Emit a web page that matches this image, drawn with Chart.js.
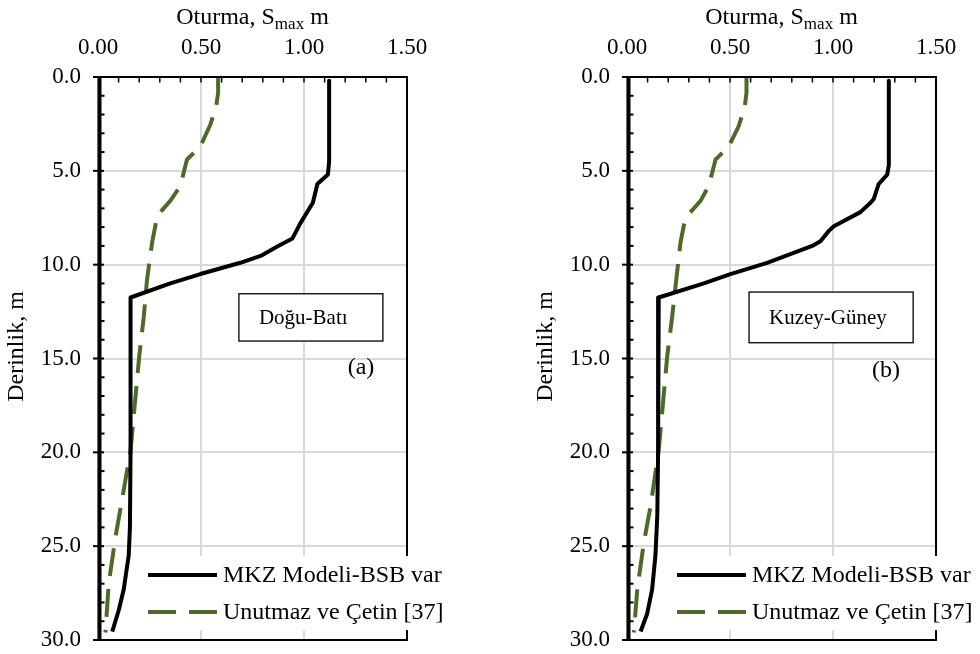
<!DOCTYPE html>
<html>
<head>
<meta charset="utf-8">
<script src="https://cdn.jsdelivr.net/npm/chart.js@4.4.1/dist/chart.umd.min.js"></script>
<style>
  html, body { margin: 0; padding: 0; background: #fff; }
  #wrap { position: relative; width: 980px; height: 654px; overflow: hidden; }
  .panel { position: absolute; top: 0; width: 490px; height: 654px; }
</style>
</head>
<body>
<div id="wrap">
  <div class="panel" style="left:0"><canvas id="ew" width="490" height="654"></canvas></div>
  <div class="panel" style="left:490px"><canvas id="ns" width="490" height="654"></canvas></div>
</div>
<script>
// Settlement profiles (depth in m, settlement in m)

// (a) East-West direction
const depthEwMkz  = [0.2, 2.5, 4.5, 5.2, 5.7, 6.7, 7.8, 8.6, 9.05, 9.5, 9.9, 10.5, 11.0, 11.75, 15.0, 20.0, 24.0, 25.5, 27.3, 28.4, 29.55];
const settleEwMkz = [1.122, 1.122, 1.122, 1.116, 1.065, 1.043, 0.982, 0.944, 0.868, 0.796, 0.691, 0.497, 0.351, 0.158, 0.158, 0.158, 0.155, 0.149, 0.125, 0.101, 0.069];
const depthEwUc   = [0.0, 0.85, 1.55, 2.55, 3.7, 4.4, 5.8, 6.6, 7.4, 7.9, 8.8, 10.8, 12.8, 14.9, 19.9, 22.0, 24.5, 27.0, 29.6];
const settleEwUc  = [0.583, 0.583, 0.574, 0.545, 0.497, 0.432, 0.400, 0.351, 0.287, 0.279, 0.263, 0.238, 0.222, 0.200, 0.158, 0.125, 0.085, 0.052, 0.036];

// (b) North-South direction
const depthNsMkz  = [0.2, 4.7, 5.2, 5.7, 6.5, 6.7, 7.2, 7.95, 8.2, 8.75, 9.0, 9.9, 10.5, 11.0, 11.75, 19.9, 23.4, 25.5, 27.3, 28.6, 29.55];
const settleNsMkz = [1.271, 1.271, 1.263, 1.222, 1.198, 1.182, 1.133, 1.004, 0.980, 0.939, 0.899, 0.680, 0.502, 0.373, 0.154, 0.151, 0.147, 0.138, 0.122, 0.098, 0.066];
const depthNsUc   = [0.0, 0.85, 1.55, 2.6, 3.7, 4.4, 5.8, 6.6, 7.4, 7.9, 8.8, 11.2, 12.8, 14.9, 19.9, 22.9, 24.8, 27.3, 29.6];
const settleNsUc  = [0.580, 0.580, 0.572, 0.543, 0.494, 0.430, 0.397, 0.357, 0.292, 0.276, 0.260, 0.235, 0.219, 0.195, 0.154, 0.114, 0.082, 0.050, 0.033];

const seriesNames = ['MKZ Modeli-BSB var', 'Unutmaz ve Çetin [37]'];
const panelNames  = ['Doğu-Batı', 'Kuzey-Güney'];
const panelTags   = ['(a)', '(b)'];
const xTitleMain  = 'Oturma, S';
const xTitleSub   = 'max';
const xTitleTail  = ' m';
const yTitle      = 'Derinlik, m';

const SERIF = "'Liberation Serif', 'Times New Roman', serif";
const GREEN = '#4e6a2b';

function toPoints(depths, values) {
  return depths.map((d, i) => ({ x: values[i], y: d }));
}

// Frame, ticks, annotations and legend drawn on top of the Chart.js scales
const framePlugin = {
  id: 'frame',
  afterDatasetsDraw(chart) {
    const { ctx, chartArea: a, scales: { x, y } } = chart;
    ctx.save();
    ctx.fillStyle = '#000';
    // top axis line and outer border
    ctx.fillRect(a.left - 5, a.top - 1, a.right - a.left + 6, 2);
    ctx.fillRect(a.left - 5, a.bottom - 1, a.right - a.left + 6, 2);
    ctx.fillRect(a.right - 1, a.top - 1, 2, a.bottom - a.top + 2);
    // heavy left (depth) axis
    ctx.fillRect(a.left - 0.5, a.top - 1, 4, a.bottom - a.top + 2);
    // minor ticks on the settlement axis
    for (let i = 1; i < 15; i++) {
      const px = x.getPixelForValue(i / 10);
      ctx.fillRect(px - 0.75, a.top, 1.5, 5.5);
    }
    // depth axis ticks: majors cross the axis, minors point inward
    for (let d = 0; d <= 30; d++) {
      const py = y.getPixelForValue(d);
      if (d % 5 === 0) ctx.fillRect(a.left - 5, py - 1, 11, 2);
      else ctx.fillRect(a.left, py - 1, 6.5, 2);
    }
    ctx.restore();
  },
  afterDraw(chart, args, opts) {
    const { ctx, chartArea: a } = chart;
    const w = a.right - a.left, h = a.bottom - a.top;
    ctx.save();

    // direction label box
    const bx = a.left + w * opts.boxX0, bx1 = a.left + w * opts.boxX1;
    const by = a.top + h * opts.boxY0, by1 = a.top + h * opts.boxY1;
    ctx.fillStyle = '#fff';
    ctx.fillRect(bx, by, bx1 - bx, by1 - by);
    ctx.strokeStyle = '#000';
    ctx.lineWidth = 1.3;
    ctx.strokeRect(bx, by, bx1 - bx, by1 - by);
    ctx.fillStyle = '#000';
    ctx.font = '21px ' + SERIF;
    ctx.textAlign = 'left';
    ctx.textBaseline = 'middle';
    ctx.fillText(opts.name, bx + 20, (by + by1) / 2 + 1);

    // panel tag
    ctx.font = '24px ' + SERIF;
    ctx.textAlign = 'center';
    ctx.fillText(opts.tag, a.left + w * opts.tagX, a.top + h * opts.tagY);

    // legend
    const lx = a.left + 45;
    const rows = [a.top + 498, a.top + 535];
    ctx.fillStyle = '#fff';
    ctx.fillRect(lx, a.top + 479, opts.legendWidth, 74);
    chart.data.datasets.forEach((ds, i) => {
      const ry = rows[i];
      ctx.strokeStyle = ds.borderColor;
      ctx.lineWidth = 4;
      ctx.setLineDash(ds.borderDash || []);
      ctx.beginPath();
      ctx.moveTo(a.left + 50, ry);
      ctx.lineTo(a.left + 119, ry);
      ctx.stroke();
      ctx.setLineDash([]);
      ctx.fillStyle = '#000';
      ctx.font = '24px ' + SERIF;
      ctx.textAlign = 'left';
      ctx.textBaseline = 'middle';
      ctx.fillText(ds.label, a.left + 125, ry + 1);
    });

    // settlement axis title with subscript
    ctx.fillStyle = '#000';
    ctx.textBaseline = 'alphabetic';
    ctx.textAlign = 'left';
    const fMain = '24px ' + SERIF, fSub = '17px ' + SERIF;
    ctx.font = fMain;
    const w1 = ctx.measureText(xTitleMain).width;
    const w3 = ctx.measureText(xTitleTail).width;
    ctx.font = fSub;
    const w2 = ctx.measureText(xTitleSub).width;
    let tx = (a.left + a.right) / 2 - (w1 + w2 + w3) / 2;
    ctx.font = fMain;
    ctx.fillText(xTitleMain, tx, 24);
    ctx.font = fSub;
    ctx.fillText(xTitleSub, tx + w1, 28.5);
    ctx.font = fMain;
    ctx.fillText(xTitleTail, tx + w1 + w2, 24);

    // depth axis title
    ctx.translate(a.left - 75.5, 346.5);
    ctx.rotate(-Math.PI / 2);
    ctx.font = '24px ' + SERIF;
    ctx.textAlign = 'center';
    ctx.fillText(yTitle, 0, 0);

    ctx.restore();
  }
};

function makePanel(id, mkz, uc, idx, padLeft, areaLeft, padRight, extra) {
  const tickFont = { family: SERIF, size: 23 };
  return new Chart(document.getElementById(id), {
    type: 'scatter',
    data: {
      datasets: [
        { label: seriesNames[0], data: mkz, showLine: true, borderColor: '#000', borderWidth: 4,
          pointRadius: 0, tension: 0, borderJoinStyle: 'round' },
        { label: seriesNames[1], data: uc, showLine: true, borderColor: GREEN, borderWidth: 4,
          borderDash: [28, 13], pointRadius: 0, tension: 0 }
      ]
    },
    options: {
      responsive: false,
      animation: false,
      devicePixelRatio: 1,
      layout: { padding: { left: padLeft, right: padRight, top: 0, bottom: 14 } },
      plugins: {
        legend: { display: false },
        tooltip: { enabled: false },
        frame: Object.assign({ name: panelNames[idx], tag: panelTags[idx] }, extra)
      },
      scales: {
        x: {
          type: 'linear', position: 'top', min: 0, max: 1.5,
          ticks: { stepSize: 0.5, callback: v => v.toFixed(2), font: tickFont, color: '#000',
                   padding: 15, maxRotation: 0, autoSkip: false },
          grid: { color: '#d9d9d9', lineWidth: 2, drawTicks: false },
          border: { display: false },
          afterFit: s => { s.height = 77; s.paddingLeft = 0; s.paddingRight = 0; }
        },
        y: {
          type: 'linear', reverse: true, min: 0, max: 30,
          ticks: { stepSize: 5, callback: v => v.toFixed(1), font: tickFont, color: '#000',
                   padding: 17, autoSkip: false },
          grid: { color: '#d9d9d9', lineWidth: 2, drawTicks: false },
          border: { display: false },
          afterFit: s => { s.width = areaLeft - padLeft; s.paddingTop = 0; s.paddingBottom = 0; }
        }
      }
    },
    plugins: [framePlugin]
  });
}

makePanel('ew', toPoints(depthEwMkz, settleEwMkz), toPoints(depthEwUc, settleEwUc), 0, 0, 98, 83,
  { boxX0: 0.456, boxX1: 0.922, boxY0: 0.385, boxY1: 0.469, tagX: 0.851, tagY: 0.517, legendWidth: 330 });
makePanel('ns', toPoints(depthNsMkz, settleNsMkz), toPoints(depthNsUc, settleNsUc), 1, 39, 137, 44,
  { boxX0: 0.395, boxX1: 0.926, boxY0: 0.382, boxY1: 0.472, tagX: 0.838, tagY: 0.522, legendWidth: 300 });
</script>
</body>
</html>
